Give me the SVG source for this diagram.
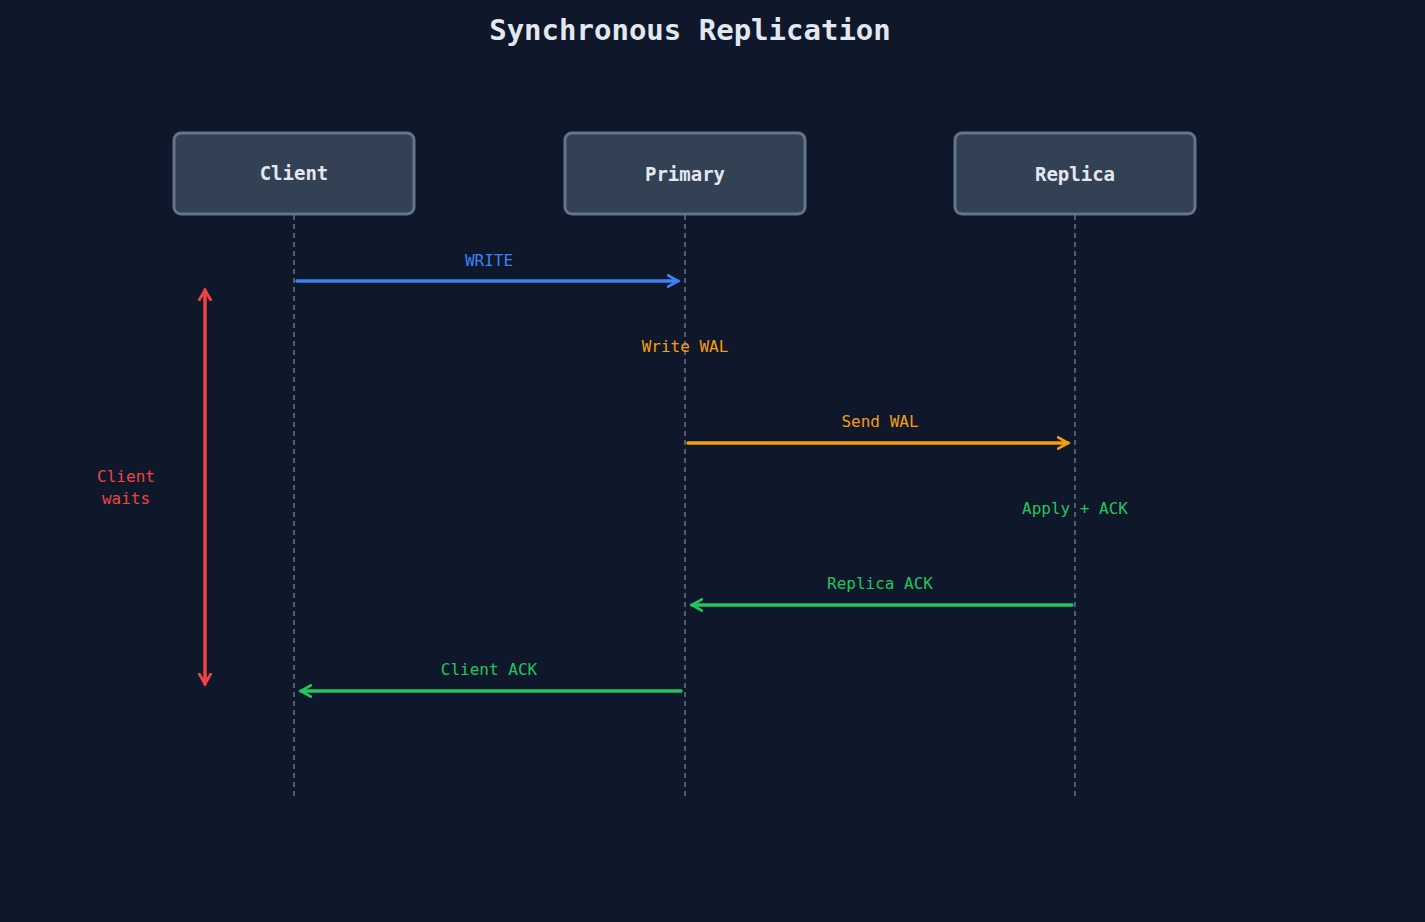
<svg xmlns="http://www.w3.org/2000/svg" width="1425" height="922" viewBox="0 0 1425 922">
<style>
.box{fill:#334155;stroke:#64748b;stroke-width:3}
.nl{font-family:"DejaVu Sans Mono",monospace;font-size:19px;font-weight:bold;fill:#e2e8f0;text-anchor:middle}
.lbl{font-family:"DejaVu Sans Mono",monospace;font-size:16px;text-anchor:middle}
.life{stroke:#64748b;stroke-width:1.5;stroke-dasharray:5 4}
.msg{stroke-width:3.5;fill:none;stroke-linecap:round}
</style>
<defs>
<marker id="ab" viewBox="0 0 10 10" refX="8" refY="5" markerWidth="4" markerHeight="4" orient="auto-start-reverse"><path d="M1,1 L8,5 L1,9" fill="none" stroke="#3b82f6" stroke-width="2" stroke-linecap="round"/></marker>
<marker id="ao" viewBox="0 0 10 10" refX="8" refY="5" markerWidth="4" markerHeight="4" orient="auto-start-reverse"><path d="M1,1 L8,5 L1,9" fill="none" stroke="#f59e0b" stroke-width="2" stroke-linecap="round"/></marker>
<marker id="ag" viewBox="0 0 10 10" refX="8" refY="5" markerWidth="4" markerHeight="4" orient="auto-start-reverse"><path d="M1,1 L8,5 L1,9" fill="none" stroke="#22c55e" stroke-width="2" stroke-linecap="round"/></marker>
<marker id="ar" viewBox="0 0 10 10" refX="8" refY="5" markerWidth="4" markerHeight="4" orient="auto-start-reverse"><path d="M1,1 L8,5 L1,9" fill="none" stroke="#ef4444" stroke-width="2" stroke-linecap="round"/></marker>
</defs>
<rect width="1425" height="922" fill="#0f172a"/>
<text x="690" y="40" font-family="DejaVu Sans Mono,monospace" font-size="29" font-weight="bold" fill="#e2e8f0" text-anchor="middle">Synchronous Replication</text>
<g id="lifelines">
<line class="life" x1="294" y1="215" x2="294" y2="798"/>
<line class="life" x1="685" y1="215" x2="685" y2="798"/>
<line class="life" x1="1075" y1="215" x2="1075" y2="798"/>
</g>
<g id="client"><rect class="box" x="174" y="133" width="240" height="81" rx="7"/><text class="nl" x="294" y="180">Client</text></g>
<g id="primary"><rect class="box" x="565" y="133" width="240" height="81" rx="7"/><text class="nl" x="685" y="181">Primary</text></g>
<g id="replica"><rect class="box" x="955" y="133" width="240" height="81" rx="7"/><text class="nl" x="1075" y="181">Replica</text></g>
<g id="connectors">
<line class="msg" x1="297" y1="281" x2="678" y2="281" stroke="#3b82f6" marker-end="url(#ab)"/>
<text class="lbl" x="489" y="266" fill="#3b82f6">WRITE</text>
<text class="lbl" x="685" y="352" fill="#f59e0b">Write WAL</text>
<line class="msg" x1="688" y1="443" x2="1068" y2="443" stroke="#f59e0b" marker-end="url(#ao)"/>
<text class="lbl" x="880" y="427" fill="#f59e0b">Send WAL</text>
<text class="lbl" x="1075" y="514" fill="#22c55e">Apply + ACK</text>
<line class="msg" x1="1072" y1="605" x2="692" y2="605" stroke="#22c55e" marker-end="url(#ag)"/>
<text class="lbl" x="880" y="589" fill="#22c55e">Replica ACK</text>
<line class="msg" x1="681" y1="691" x2="301" y2="691" stroke="#22c55e" marker-end="url(#ag)"/>
<text class="lbl" x="489" y="675" fill="#22c55e">Client ACK</text>
<line class="msg" x1="205" y1="290" x2="205" y2="684" stroke="#ef4444" marker-start="url(#ar)" marker-end="url(#ar)"/>
<text class="lbl" x="126" y="482" fill="#ef4444" font-size="18">Client</text>
<text class="lbl" x="126" y="504" fill="#ef4444" font-size="18">waits</text>
</g>
</svg>
